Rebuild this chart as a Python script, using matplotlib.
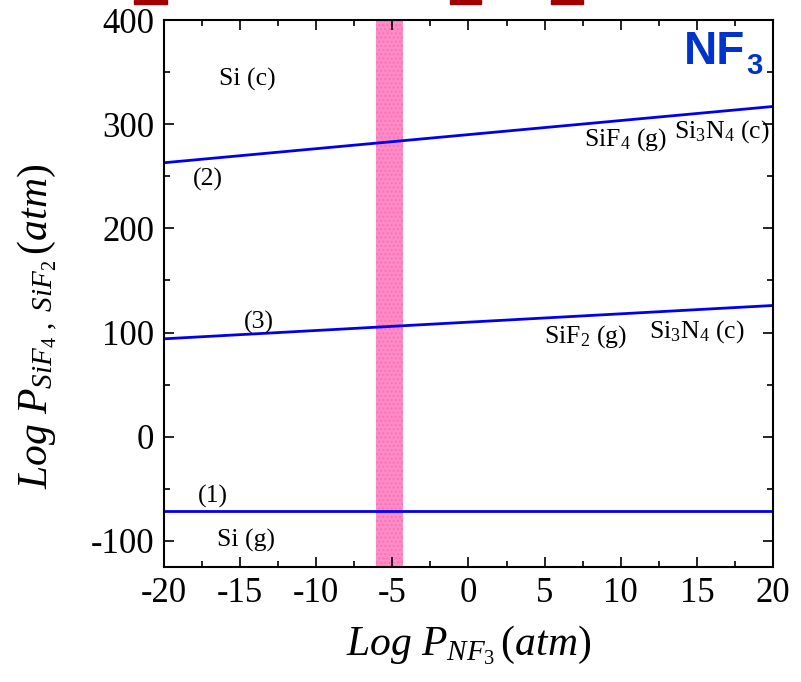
import matplotlib
matplotlib.use("Agg")
import matplotlib.pyplot as plt
from matplotlib.ticker import MultipleLocator
from matplotlib.patches import Rectangle

# Data
x_ends = [-20, 20]
line1 = [-71, -71]     # (1)
line2 = [263, 317]     # (2)
line3 = [94, 126]      # (3)
band = [-6.1, -4.3]
xlim = [-20, 20]
ylim = [-125, 400]

plt.rcParams['mathtext.fontset'] = 'custom'
plt.rcParams['mathtext.rm'] = 'Liberation Serif'
plt.rcParams['mathtext.it'] = 'Liberation Serif:italic'
plt.rcParams['font.family'] = ['Liberation Serif', 'DejaVu Sans']
plt.rcParams['axes.unicode_minus'] = False

W, H = 801, 682
fig = plt.figure(figsize=(W/100, H/100), dpi=100)
ax = fig.add_axes([164/W, 1-567/H, (773-164)/W, (567-20)/H])

ax.axvspan(band[0], band[1], facecolor='#ff8cc6', edgecolor='#ff6fb5', hatch='....', lw=0, zorder=1)
ax.plot(x_ends, line1, color='#0000ee', lw=2, zorder=2)
ax.plot(x_ends, line2, color='#0000ee', lw=2, zorder=2)
ax.plot(x_ends, line3, color='#0000ee', lw=2, zorder=2)

ax.set_xlim(xlim)
ax.set_ylim(ylim)
ax.xaxis.set_major_locator(MultipleLocator(5))
ax.xaxis.set_minor_locator(MultipleLocator(2.5))
ax.yaxis.set_major_locator(MultipleLocator(100))
ax.yaxis.set_minor_locator(MultipleLocator(50))
ax.tick_params(which='both', direction='in', top=True, right=True, width=1.2)
ax.tick_params(which='major', length=7, labelsize=25, pad=7)
ax.tick_params(which='minor', length=4)
for s in ax.spines.values():
    s.set_linewidth(1.5)

ax.set_xlabel(r'$Log\ P_{NF_3}\,(atm)$', fontsize=30, labelpad=10)
ax.set_ylabel(r'$Log\ P_{SiF_4\ ,\ SiF_2}\,(atm)$', fontsize=30)
ax.yaxis.set_label_coords(-0.171, 0.439)

fs = 18.5
ax.text(-14.5, 343, 'Si (c)', fontsize=fs, ha='center', va='center')
ax.text(-17.1, 247, '(2)', fontsize=fs, ha='center', va='center')
ax.text(10.3, 285, r'SiF$_4$ (g)', fontsize=fs, ha='center', va='center')
ax.text(16.65, 293, r'Si$_3$N$_4$ (c)', fontsize=fs, ha='center', va='center')
ax.text(-13.8, 110, '(3)', fontsize=fs, ha='center', va='center')
ax.text(7.65, 96, r'SiF$_2$ (g)', fontsize=fs, ha='center', va='center')
ax.text(15.0, 101, r'Si$_3$N$_4$ (c)', fontsize=fs, ha='center', va='center')
ax.text(-16.8, -57, '(1)', fontsize=fs, ha='center', va='center')
ax.text(-14.6, -100, 'Si (g)', fontsize=fs, ha='center', va='center')

# NF3 label
fig.text(745/W, 1-64/H, 'NF', ha='right', va='baseline', fontsize=33,
         fontweight='bold', color='#0033cc', family='Liberation Sans')
fig.text(746/W, 1-74/H, '3', ha='left', va='baseline', fontsize=21,
         fontweight='bold', color='#0033cc', family='Liberation Sans')

# cut-off red marks at the top edge
for x0, x1 in [(134, 167), (450, 481), (551, 583)]:
    fig.patches.append(Rectangle((x0/W, 1-3.5/H), (x1-x0)/W, 3.5/H,
                                 transform=fig.transFigure, color='#a00000'))

fig.savefig('out.png', dpi=100)
